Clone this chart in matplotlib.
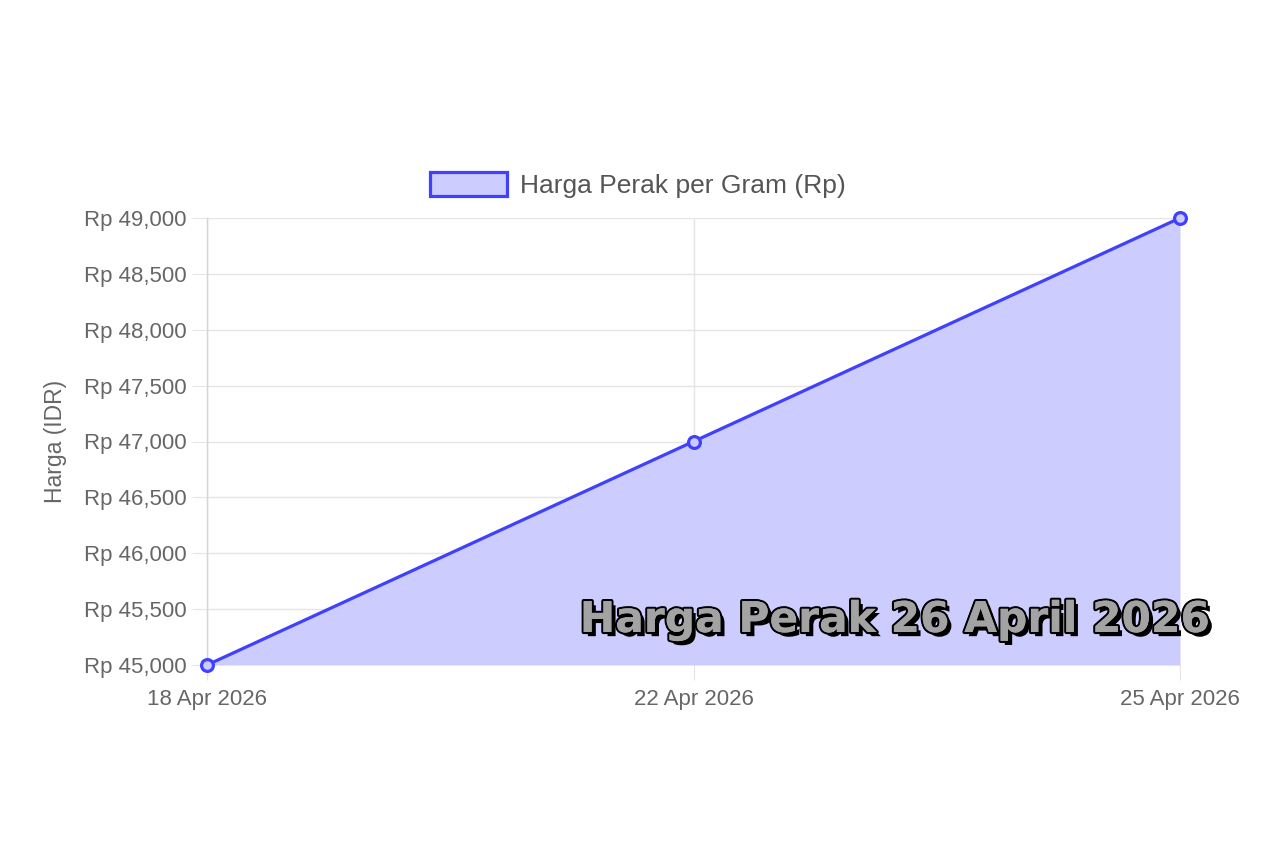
import matplotlib
matplotlib.use("Agg")
import matplotlib.pyplot as plt
import matplotlib.patheffects as pe
from matplotlib.ticker import FuncFormatter
from matplotlib.patches import Patch

###### data ######
tanggal = ['18 Apr 2026', '22 Apr 2026', '25 Apr 2026']
harga = [45000, 47000, 49000]
y_ticks = [45000, 45500, 46000, 46500, 47000, 47500, 48000, 48500, 49000]

label_seri = 'Harga Perak per Gram (Rp)'
label_y = 'Harga (IDR)'
judul_overlay = 'Harga Perak 26 April 2026'

warna_garis = '#4040ff'
warna_isi = '#ccccff'
warna_grid = '#e5e5e5'
warna_teks = '#666666'

plt.rcParams['font.family'] = ['Liberation Sans', 'DejaVu Sans']

fig = plt.figure(figsize=(12.8, 8.51), dpi=100)
ax = fig.add_axes([207 / 1280, 1 - 665 / 851, (1180 - 207) / 1280, (665 - 218) / 851])

x = list(range(len(tanggal)))
ax.fill_between(x, harga, 45000, color=warna_isi, lw=0, zorder=2)
ax.plot(x, harga, color=warna_garis, lw=2.3, zorder=3, clip_on=False,
        marker='o', markersize=8.5, markerfacecolor=warna_isi,
        markeredgecolor=warna_garis, markeredgewidth=2.3)

ax.set_xlim(0, 2)
ax.set_ylim(45000, 49000)
ax.set_xticks(x)
ax.set_xticklabels(tanggal)
ax.set_yticks(y_ticks)
ax.yaxis.set_major_formatter(FuncFormatter(lambda v, p: 'Rp {:,.0f}'.format(v)))

ax.grid(True, color=warna_grid, lw=1, zorder=0)
ax.set_axisbelow(True)
for s in ['top', 'right', 'bottom']:
    ax.spines[s].set_visible(False)
ax.spines['left'].set_color('#d4d4d4')
ax.spines['left'].set_linewidth(1)
ax.tick_params(axis='y', length=11, width=0.8, color=warna_grid,
               labelcolor=warna_teks, labelsize=16, pad=4)
ax.tick_params(axis='x', length=11, width=0.8, color=warna_grid,
               labelcolor=warna_teks, labelsize=16, pad=6)
ax.set_ylabel(label_y, fontsize=16.5, color=warna_teks, labelpad=12)

leg = fig.legend(handles=[Patch(facecolor=warna_isi, edgecolor=warna_garis, lw=2.3, label=label_seri)],
                 loc='center', bbox_to_anchor=(638 / 1280, 1 - 185 / 851), frameon=False,
                 fontsize=19, handlelength=2.9, handleheight=1.0, handletextpad=0.5)
for t in leg.get_texts():
    t.set_color('#555555')

fig.text(895 / 1280, 1 - 620 / 851, judul_overlay, ha='center', va='center',
         fontsize=30.5, fontweight='heavy', family='DejaVu Sans', color='#a3a3a3', zorder=10,
         path_effects=[pe.withStroke(linewidth=3, foreground='black'),
                       pe.SimplePatchShadow(offset=(3, -3), shadow_rgbFace='black', alpha=1),
                       pe.withStroke(linewidth=2.5, foreground='black'),
                       pe.Normal()])

fig.savefig('out.png', dpi=100, facecolor='white')
